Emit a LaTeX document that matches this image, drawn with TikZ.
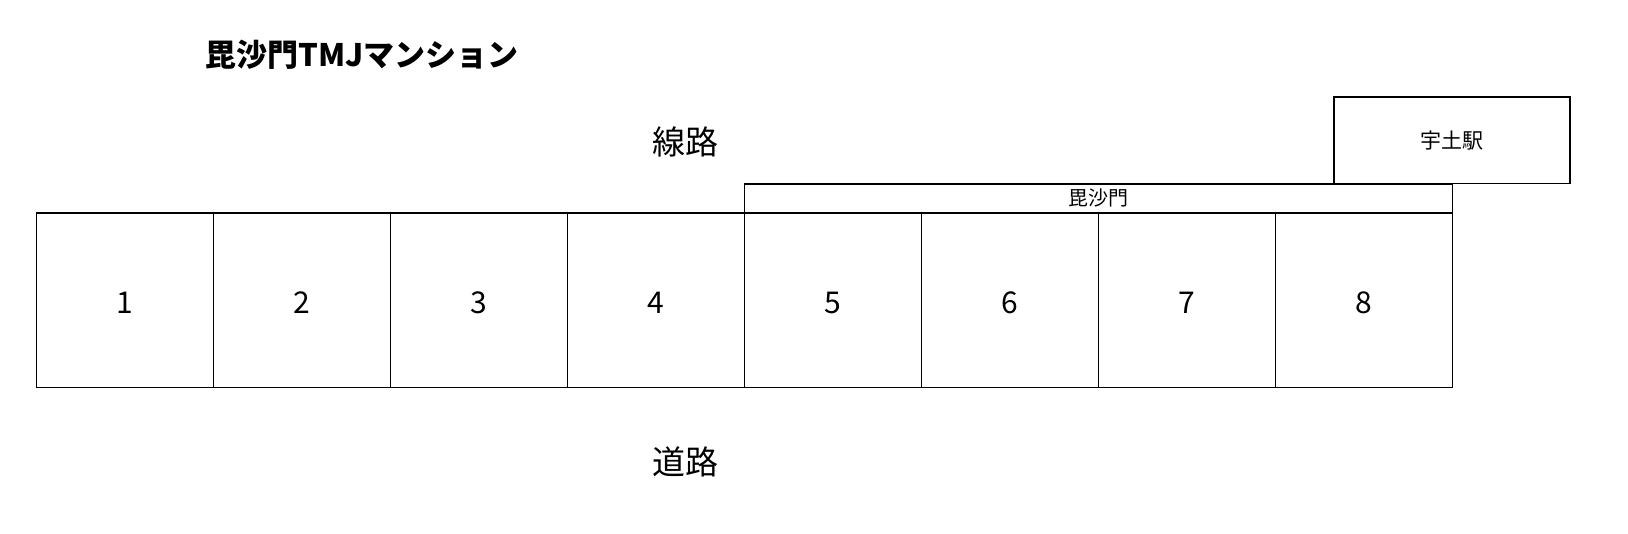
\documentclass[tikz,border=0pt]{standalone}
\usepackage{fontspec}
\usetikzlibrary{calc}
\setmainfont{Noto Sans CJK JP}
\newfontfamily\cjk{Noto Sans CJK JP}
\begin{document}
\begin{tikzpicture}[x=1pt,y=-1pt,
  cell/.style={draw,line width=1.3pt,minimum width=177pt,minimum height=174.7pt,inner sep=0pt,anchor=north west},
  num/.style={font=\cjk\fontsize{30}{30}\selectfont,inner sep=0pt},
  lbl/.style={font=\cjk\fontsize{33}{33}\selectfont,inner sep=0pt}]
\useasboundingbox (0,0) rectangle (1628,534);
\node[font=\cjk\bfseries\fontsize{31}{31}\selectfont,inner sep=0pt,anchor=west] (title) at (205,55) {毘沙門TMJマンション};
\node[lbl] (senro) at (685,142) {線路};
\node[lbl] (doro) at (685,462) {道路};
\foreach \i in {1,...,8}{
  \node[cell] (c\i) at ({35.5+(\i-1)*177},212.3) {};
  \node[num] (n\i) at ($(c\i.center)+(0,2.5)$) {\i};
}
\node[draw,line width=1.3pt,anchor=north west,minimum width=708.2pt,minimum height=29pt,inner sep=0pt,font=\cjk\fontsize{20}{20}\selectfont] (bsm) at (743.5,183.3) {毘沙門};
\node[draw,line width=1.3pt,anchor=north west,minimum width=236pt,minimum height=86.7pt,inner sep=0pt,font=\cjk\fontsize{21}{21}\selectfont] (udo) at (1333.3,96.3) {宇土駅};
\end{tikzpicture}
\end{document}
